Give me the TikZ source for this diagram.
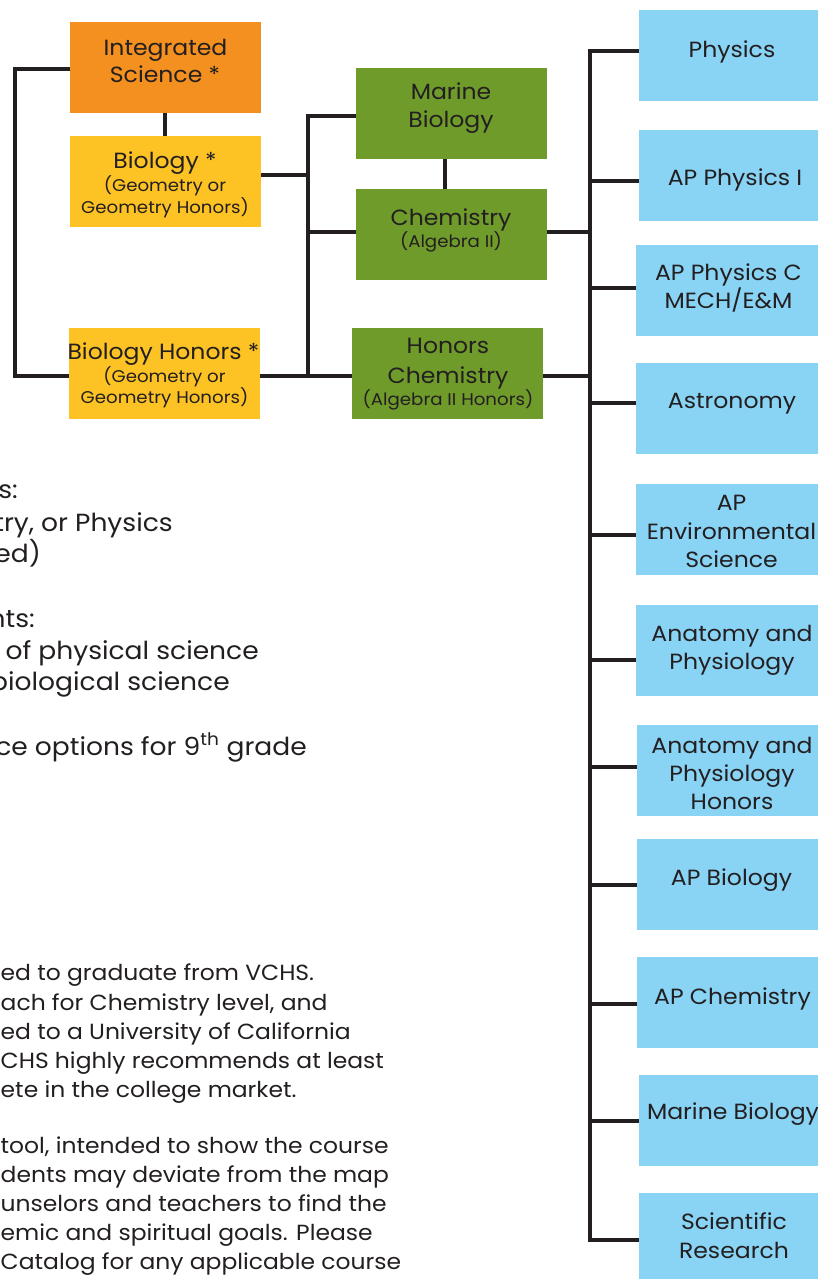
\documentclass[tikz,border=0pt]{standalone}
\usepackage{fontspec}
\setmainfont{Poppins}[FakeStretch=1.07]
\definecolor{orgc}{HTML}{F3901F}
\definecolor{yelc}{HTML}{FDC324}
\definecolor{grnc}{HTML}{6F9B2B}
\definecolor{bluc}{HTML}{89D3F4}
\definecolor{inkc}{HTML}{231F20}
\newcommand{\bigf}{\fontsize{22}{28}\selectfont}
\newcommand{\smlf}{\fontsize{17}{22}\selectfont}
\newcommand{\txtf}{\fontsize{24.8}{32}\selectfont}
\newcommand{\notef}{\fontsize{21.9}{29}\selectfont}
\tikzset{
 box/.style={minimum width=191pt, minimum height=91pt, inner sep=0pt, outer sep=0pt, anchor=north west},
 obox/.style={box, fill=orgc},
 ybox/.style={box, fill=yelc},
 gbox/.style={box, fill=grnc},
 bbox/.style={box, fill=bluc},
 conn/.style={draw=inkc, line width=4pt},
 bt/.style={anchor=base, inner sep=0pt, text=inkc, font=\bigf},
 st/.style={anchor=base, inner sep=0pt, text=inkc, font=\smlf},
 lt/.style={anchor=base east, inner sep=0pt, text=inkc, font=\txtf},
 nt/.style={anchor=base west, inner sep=0pt, text=inkc, font=\notef},
}
\begin{document}
\begin{tikzpicture}[x=1pt,y=-1pt]
\useasboundingbox (0,0) rectangle (818,1279);
\clip (0,0) rectangle (818,1279);
\fill[white] (0,0) rectangle (818,1279);
% boxes
\node[obox] (is) at (70,22) {};
\node[ybox] (bio) at (70,136) {};
\node[ybox] (bh) at (69,328) {};
\node[gbox] (mb) at (356,68) {};
\node[gbox] (ch) at (356,189) {};
\node[gbox] (hc) at (352,328) {};
\node[bbox] (phys) at (639,10) {};
\node[bbox] (ap1) at (639,130) {};
\node[bbox] (apc) at (636,245) {};
\node[bbox] (astr) at (636,363) {};
\node[bbox] (apes) at (636,484) {};
\node[bbox] (ap) at (636,605) {};
\node[bbox] (aph) at (637,725) {};
\node[bbox] (apb) at (637,839) {};
\node[bbox] (apch) at (637,957) {};
\node[bbox] (mar) at (639,1075) {};
\node[bbox] (sci) at (639,1193) {};
% connectors
\draw[conn] ([yshift=-1.5pt]is.west) -| ([xshift=-54pt,yshift=-2.5pt]bh.west) -- ([yshift=-2.5pt]bh.west);
\draw[conn] ([xshift=-0.5pt]is.south) -- ([xshift=-0.5pt]bio.north);
\draw[conn] ([yshift=6.5pt]bio.east) -- ++(47,0);
\draw[conn] ([yshift=-2.5pt]mb.west) -| ([xshift=-44pt,yshift=-2.5pt]hc.west);
\draw[conn] ([yshift=2.5pt]ch.west) -- ++(-48,0);
\draw[conn] ([yshift=-2.5pt]bh.east) -- ([yshift=-2.5pt]hc.west);
\draw[conn] ([xshift=-6.5pt]mb.south) -- ([xshift=-6.5pt]ch.north);
\draw[conn] ([yshift=2.5pt]ch.east) -- ++(42.5,0);
\draw[conn] ([yshift=-2.5pt]hc.east) -- ++(46.5,0);
\draw[conn] ([yshift=4pt]phys.west) -| ([xshift=-49.5pt,yshift=-1.5pt]sci.west) -- ([yshift=-1.5pt]sci.west);
\draw[conn] ([yshift=-5.5pt]ap1.west) -- ++(-49.5,0);
\draw[conn] ([yshift=3pt]apc.west) -- ++(-46.5,0);
\draw[conn] ([yshift=6pt]astr.west) -- ++(-46.5,0);
\draw[conn] ([yshift=-5.5pt]apes.west) -- ++(-46.5,0);
\draw[conn] ([yshift=-9.5pt]ap.west) -- ++(-46.5,0);
\draw[conn] ([yshift=3.5pt]aph.west) -- ++(-47.5,0);
\draw[conn] ([yshift=-0.5pt]apb.west) -- ++(-47.5,0);
\draw[conn] ([yshift=-1.5pt]apch.west) -- ++(-47.5,0);
\draw[conn] ([yshift=-0.5pt]mar.west) -- ++(-49.5,0);
% box texts
\node[bt] (is1) at (165.5,56) {Integrated};
\node[bt] (is2) at (165,83) {Science *};
\node[bt] (bio1) at (165,168) {Biology *};
\node[st] (bio2) at (165,191) {(Geometry or};
\node[st] (bio3) at (165,213) {Geometry Honors)};
\node[bt] (bh1) at (163.5,359) {Biology Honors *};
\node[st] (bh2) at (164.5,382) {(Geometry or};
\node[st] (bh3) at (164.5,403) {Geometry Honors)};
\node[bt] (mb1) at (451,100) {Marine};
\node[bt] (mb2) at (451,128) {Biology};
\node[bt] (ch1) at (451,225) {Chemistry};
\node[st] (ch2) at (451,247) {(Algebra II)};
\node[bt] (hc1) at (448,353) {Honors};
\node[bt] (hc2) at (448,383) {Chemistry};
\node[st] (hc3) at (448,405) {(Algebra II Honors)};
\node[bt] (phys1) at (732,58) {Physics};
\node[bt] (ap11) at (735,185) {AP Physics I};
\node[bt] (apc1) at (728.5,280) {AP Physics C};
\node[bt] (apc2) at (728.5,308) {MECH/E\&M};
\node[bt] (astr1) at (732,408) {Astronomy};
\node[bt] (apes1) at (731.5,510) {AP};
\node[bt] (apes2) at (731.5,539) {Environmental};
\node[bt] (apes3) at (731.5,567) {Science};
\node[bt] (ap1t) at (732,641) {Anatomy and};
\node[bt] (ap2t) at (732,669) {Physiology};
\node[bt] (aph1) at (732,753) {Anatomy and};
\node[bt] (aph2) at (732,781) {Physiology};
\node[bt] (aph3) at (732,809) {Honors};
\node[bt] (apb1) at (731.5,885) {AP Biology};
\node[bt] (apch1) at (732.5,1004) {AP Chemistry};
\node[bt] (mar1) at (733,1119) {Marine Biology};
\node[bt] (sci1) at (734,1229) {Scientific};
\node[bt] (sci2) at (734,1258) {Research};
% left texts
\node[lt] (l1) at (18,498) {s:};
\node[lt] (l2) at (173,531) {try, or Physics};
\node[lt] (l3) at (41,562) {ed)};
\node[lt] (l4) at (35,627) {nts:};
\node[lt] (l5) at (259,659) {r of physical science};
\node[lt] (l6) at (230,690) {biological science};
\node[lt] (l7) at (307,755) {ce options for 9\textsuperscript{th} grade};
\node[nt] (n1) at (0.5,980) {ed to graduate from VCHS.};
\node[nt] (n2) at (0.5,1010) {ach for Chemistry level, and};
\node[nt] (n3) at (0.5,1039) {ed to a University of California};
\node[nt] (n4) at (0.5,1068) {CHS highly recommends at least};
\node[nt] (n5) at (0.5,1097) {ete in the college market.};
\node[nt] (n6) at (0.5,1153) {tool, intended to show the course};
\node[nt] (n7) at (0.5,1182) {dents may deviate from the map};
\node[nt] (n8) at (0.5,1211) {unselors and teachers to find the};
\node[nt] (n9) at (0.5,1240) {emic and spiritual goals. Please};
\node[nt] (n10) at (0.5,1269) {Catalog for any applicable course};
\end{tikzpicture}
\end{document}
